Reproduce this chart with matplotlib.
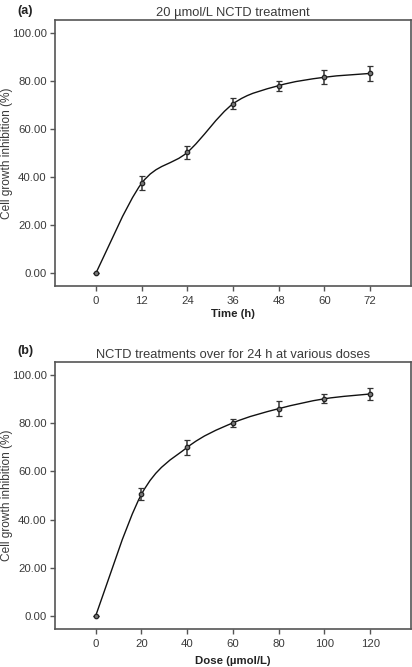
import numpy as np
import matplotlib
matplotlib.use("Agg")
import matplotlib.pyplot as plt
from matplotlib.path import Path
from matplotlib.patches import PathPatch
from matplotlib.ticker import FormatStrFormatter

plt.rcParams['font.family'] = ['Liberation Sans', 'DejaVu Sans']

# --- data ---
time_h = [0, 12, 24, 36, 48, 60, 72]
time_inhib = [0.0, 37.4, 50.3, 70.5, 78.1, 81.6, 83.2]
time_err = [0.0, 3.0, 2.6, 2.3, 2.1, 3.0, 3.0]

dose = [0, 20, 40, 60, 80, 100, 120]
dose_inhib = [0.0, 50.5, 70.0, 80.2, 86.1, 90.2, 92.2]
dose_err = [0.0, 2.5, 3.2, 1.8, 3.1, 1.9, 2.5]

y_ticks = [0, 20, 40, 60, 80, 100]

TXT = '#3a3a3a'
FRAME = '#555555'


def smooth_path(x, y):
    # Catmull-Rom curve through the points, as cubic Bezier segments
    x = np.asarray(x, float)
    y = np.asarray(y, float)
    pts = np.column_stack([x, y])
    ext = np.vstack([pts[0], pts, pts[-1]])
    verts = [pts[0]]
    codes = [Path.MOVETO]
    for i in range(len(pts) - 1):
        p0, p1, p2, p3 = ext[i], ext[i + 1], ext[i + 2], ext[i + 3]
        c1 = p1 + (p2 - p0) / 6.0
        c2 = p2 - (p3 - p1) / 6.0
        verts += [c1, c2, p2]
        codes += [Path.CURVE4] * 3
    return Path(verts, codes)


def panel(ax, x, y, err, xlim, xlabel, title, tag, labelpad, tag_y):
    ax.add_patch(PathPatch(smooth_path(x, y), fill=False, lw=1.0,
                           edgecolor='#111111', zorder=2))
    ax.errorbar(x, y, yerr=err, fmt='o', ms=3.2, mfc='#777777', mec='#222222',
                mew=0.9, ecolor='#333333', elinewidth=1.1, capsize=2.3,
                capthick=1.1, zorder=3)
    ax.set_xlim(*xlim)
    ax.set_ylim(-5.5, 105.5)
    ax.set_xticks(x)
    ax.set_yticks(y_ticks)
    ax.yaxis.set_major_formatter(FormatStrFormatter('%.2f'))
    for s in ax.spines.values():
        s.set_color(FRAME)
        s.set_linewidth(1.2)
    ax.tick_params(axis='both', colors=FRAME, labelcolor=TXT, labelsize=8.2,
                   width=1.0, length=3.5, pad=2.5)
    ax.tick_params(axis='x', pad=4)
    ax.set_xlabel(xlabel, fontsize=8.2, fontweight='bold', color='#222222',
                  labelpad=labelpad)
    ax.set_ylabel('Cell growth inhibition (%)', fontsize=8.6, color=TXT)
    ax.yaxis.set_label_coords(-0.118, 0.5)
    ax.set_title(title, fontsize=9.3, color=TXT, pad=3)
    ax.text(-0.084, tag_y, tag, transform=ax.transAxes, fontsize=9,
            fontweight='bold', color='#222222', ha='center', va='center')


fig = plt.figure(figsize=(4.12, 6.67), dpi=100)
ax1 = fig.add_axes([0.1335, 0.5712, 0.864, 0.3988])
ax2 = fig.add_axes([0.1335, 0.0570, 0.864, 0.4003])

panel(ax1, time_h, time_inhib, time_err, (-10.8, 82.8), 'Time (h)',
      '20 \u00b5mol/L NCTD treatment', '(a)', 1.5, 1.032)
panel(ax2, dose, dose_inhib, dose_err, (-17.8, 137.8), 'Dose (\u00b5mol/L)',
      'NCTD treatments over for 24 h at various doses', '(b)', 5, 1.042)

fig.savefig('out.png', dpi=100, facecolor='white')
